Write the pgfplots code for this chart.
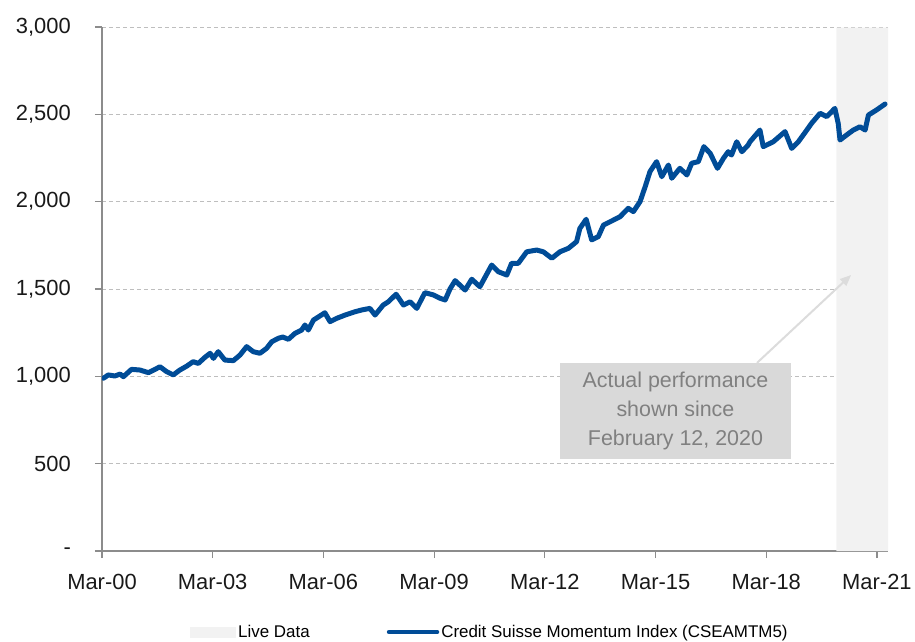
\documentclass[border=0pt]{standalone}
\usepackage{fontspec}
\setmainfont{Liberation Sans}
\usepackage{pgfplots}
\pgfplotsset{compat=1.18}
\usetikzlibrary{arrows.meta}
\definecolor{csblue}{RGB}{0,76,151}
\definecolor{shadegray}{RGB}{242,242,242}
\definecolor{gridgray}{RGB}{190,190,190}
\definecolor{axisgray}{RGB}{140,140,140}
\definecolor{boxgray}{RGB}{217,217,217}
\definecolor{txtgray}{RGB}{128,128,128}
\definecolor{arrowgray}{RGB}{220,220,220}
\pgfplotstableread{
t v
0.04 989
0.17 1008
0.35 1002
0.49 1013
0.58 998
0.80 1040
1.03 1036
1.26 1021
1.44 1040
1.57 1055
1.75 1027
1.93 1008
2.11 1036
2.30 1059
2.47 1084
2.61 1074
2.79 1109
2.93 1132
3.02 1103
3.15 1141
3.33 1093
3.56 1090
3.74 1122
3.92 1170
4.10 1141
4.28 1132
4.46 1160
4.60 1198
4.78 1218
4.90 1225
5.05 1212
5.23 1246
5.41 1265
5.50 1294
5.59 1265
5.73 1322
5.90 1345
6.04 1364
6.18 1313
6.36 1332
6.59 1351
6.86 1370
7.04 1380
7.26 1389
7.40 1351
7.62 1408
7.76 1427
7.97 1470
8.17 1408
8.35 1427
8.53 1389
8.75 1479
8.98 1466
9.16 1447
9.30 1437
9.43 1500
9.57 1548
9.84 1494
10.02 1556
10.24 1513
10.56 1637
10.74 1599
10.97 1580
11.10 1647
11.28 1647
11.51 1713
11.78 1723
11.96 1713
12.19 1676
12.41 1713
12.64 1733
12.86 1771
12.95 1847
13.12 1899
13.27 1781
13.45 1800
13.59 1866
13.77 1885
14.04 1914
14.26 1962
14.40 1943
14.58 2000
14.72 2086
14.85 2172
15.03 2229
15.17 2143
15.35 2210
15.44 2134
15.66 2191
15.85 2153
15.98 2220
16.16 2229
16.31 2315
16.48 2277
16.68 2191
16.84 2248
16.97 2286
17.06 2267
17.20 2343
17.34 2286
17.51 2324
17.56 2343
17.83 2410
17.92 2315
18.19 2343
18.51 2401
18.69 2305
18.87 2343
19.10 2410
19.23 2449
19.46 2506
19.64 2487
19.86 2534
19.95 2449
20.00 2353
20.18 2382
20.36 2410
20.54 2429
20.68 2410
20.77 2496
20.99 2525
21.22 2559
}\idxdata
\begin{document}
\begin{tikzpicture}
\useasboundingbox (-102bp,-91bp) rectangle (813bp,551bp);
\begin{axis}[
  at={(0,0)}, anchor=south west,
  scale only axis, width=786bp, height=524bp,
  xmin=0, xmax=21.3, ymin=0, ymax=3000,
  axis x line*=bottom, axis y line*=left,
  axis line style={draw=axisgray, line width=1.2bp},
  tick align=outside, major tick length=7bp,
  tick style={draw=axisgray, line width=1.2bp},
  ymajorgrids, grid style={draw=gridgray, line width=0.9bp, dash pattern=on 4bp off 3bp},
  ytick={0,500,1000,1500,2000,2500,3000},
  yticklabels={{-},{500},{1,000},{1,500},{2,000},{2,500},{3,000}},
  xtick={0,3,6,9,12,15,18,21},
  xticklabels={Mar-00,Mar-03,Mar-06,Mar-09,Mar-12,Mar-15,Mar-18,Mar-21},
  tick label style={font=\fontsize{22}{26}\selectfont, text=black!90},
  yticklabel style={inner sep=0pt, xshift=-24bp},
  xticklabel style={inner sep=0pt, yshift=-16bp},
  legend columns=2,
  legend style={at={(0.112,-0.1546)}, anchor=west, draw=none, fill=none, inner sep=0pt,
    font=\fontsize{17}{20}\selectfont, nodes={inner sep=2bp},
    /tikz/column 2/.style={column sep=75bp}},
  legend cell align=left,
]
\addplot[draw=none, fill=shadegray,
  legend image code/.code={\fill[shadegray] (0bp,-5.5bp) rectangle (46bp,5.5bp);}]
  coordinates {(19.9,0) (19.9,2997) (21.3,2997) (21.3,0)} \closedcycle;
\addlegendentry{Live Data}
\addplot[csblue, line width=5bp, line join=round, line cap=round,
  legend image code/.code={\draw[csblue, line width=4.5bp] (0bp,0bp) -- (48bp,0bp);}]
  table[x=t, y=v] {\idxdata};
\addlegendentry{Credit Suisse Momentum Index (CSEAMTM5)}
\draw[arrowgray, line width=2bp, -{Triangle[length=11bp,width=9bp]}] (axis cs:17.75,1077) -- (axis cs:20.30,1580);
\node[fill=boxgray, text=txtgray, align=center, minimum width=231bp, minimum height=96bp, inner sep=0pt,
  font=\fontsize{21.5}{29}\selectfont] at (axis cs:15.54,801) {Actual performance\\shown since\\February 12, 2020};
\end{axis}
\end{tikzpicture}
\end{document}
